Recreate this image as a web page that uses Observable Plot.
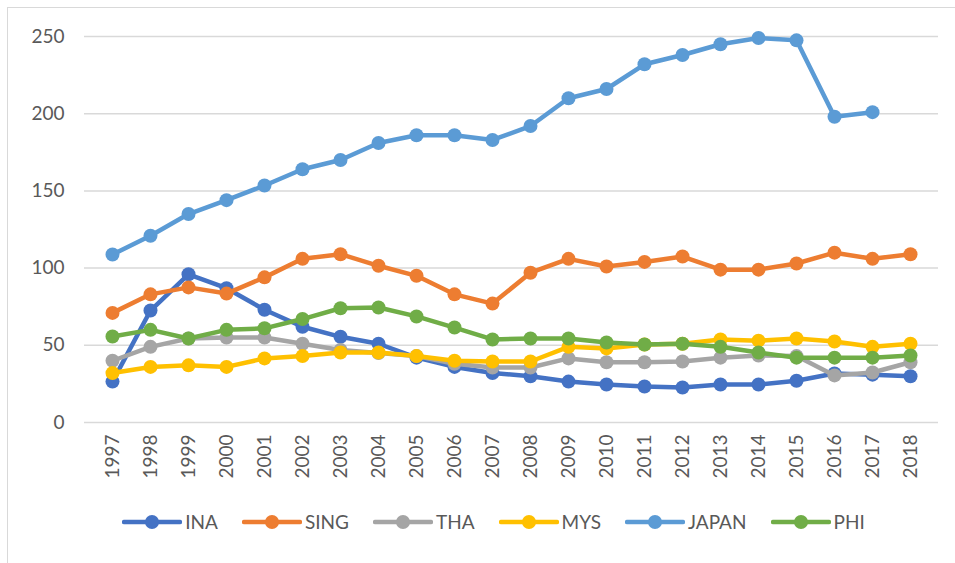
<!DOCTYPE html>
<html>
<head>
<meta charset="utf-8">
<script src="https://cdn.jsdelivr.net/npm/d3@7"></script>
<script src="https://cdn.jsdelivr.net/npm/@observablehq/plot@0.6"></script>
<style>
  html, body { margin: 0; padding: 0; background: #fff; }
  #wrap { position: relative; width: 955px; height: 563px; overflow: hidden; font-family: Lato, "Open Sans", sans-serif; }
  #frame { position: absolute; left: 7px; top: 7px; width: 960px; height: 570px; border-left: 1px solid #d9d9d9; border-top: 1px solid #d9d9d9; box-sizing: border-box; }
  #chart { position: absolute; left: 0; top: 0; }
  #legend { position: absolute; left: 16px; top: 510px; width: 955px; display: flex; justify-content: center; gap: 24px; font-size: 19px; color: #595959; }
  .item { display: flex; align-items: center; gap: 3px; }
</style>
</head>
<body>
<div id="wrap">
  <div id="frame"></div>
  <div id="chart"></div>
  <div id="legend"></div>
</div>
<script>
const years = [1997,1998,1999,2000,2001,2002,2003,2004,2005,2006,2007,2008,2009,2010,2011,2012,2013,2014,2015,2016,2017,2018];
const seriesNames = ["INA","SING","THA","MYS","JAPAN","PHI"];
const seriesColors = ["#4472C4","#ED7D31","#A5A5A5","#FFC000","#5B9BD5","#70AD47"];
const INA   = [26.5,72.5,96,87,73,62,55.5,51,42,36,32,30,26.5,24.6,23.3,22.7,24.6,24.6,27,31.7,31,30];
const SING  = [71,83,87.5,83.5,94,106,109,101.5,95,83,77,97,106,101,104,107.5,99,99,103,110,106,109];
const THA   = [40,49,54.4,55,55,51,47,45,43,38,35.6,35.6,41.5,39,39,39.5,42,43.4,43,30.5,32.4,39];
const MYS   = [32,36,37,36,41.5,43,45.3,45.3,43,40,39.5,39.5,49,48,50.5,51,53.8,53,54.4,52.5,49,51];
const JAPAN = [108.8,121,135,144,153.5,164,170,181,186,186,183,192,210,216,232,238,245,249,247.5,198,201,null];
const PHI   = [55.7,60,54.4,60,61,67,74,74.5,68.7,61.5,53.8,54.4,54.4,51.8,50.5,51,49,45.3,42,42,42,43.4];
const yTicks = [0,50,100,150,200,250];

const seriesValues = [INA, SING, THA, MYS, JAPAN, PHI];

const marks = [
  Plot.gridY(yTicks, {stroke: "#d9d9d9", strokeWidth: 1.5, strokeOpacity: 1})
];
seriesNames.forEach((name, i) => {
  const data = years.map((yr, j) => ({year: yr, value: seriesValues[i][j], series: name}));
  marks.push(Plot.line(data, {x: "year", y: "value", stroke: seriesColors[i], strokeWidth: 4.5, strokeLinejoin: "round", curve: "linear"}));
  marks.push(Plot.dot(data.filter(d => d.value != null), {x: "year", y: "value", fill: seriesColors[i], r: 7, stroke: "none"}));
});
marks.push(Plot.axisY(yTicks, {tickSize: 0, tickPadding: 20, fontSize: 19, color: "#595959", label: null, tickFormat: d => String(d)}));
marks.push(Plot.axisX(years, {tickSize: 0, tickPadding: 12, tickRotate: -90, fontSize: 19, color: "#595959", label: null, tickFormat: d => String(d)}));

const chart = Plot.plot({
  width: 955,
  height: 563,
  marginLeft: 84,
  marginRight: 17,
  marginTop: 36,
  marginBottom: 141,
  style: {fontFamily: "Lato, 'Open Sans', sans-serif", background: "transparent"},
  x: {type: "point", domain: years, padding: 0.5, label: null},
  y: {domain: [0, 250], label: null},
  marks
});
document.getElementById("chart").appendChild(chart);

const legend = document.getElementById("legend");
seriesNames.forEach((name, i) => {
  const item = document.createElement("div");
  item.className = "item";
  item.innerHTML = `<svg width="60" height="20"><line x1="2" x2="58" y1="10" y2="10" stroke="${seriesColors[i]}" stroke-width="4.5" stroke-linecap="round"/><circle cx="30" cy="10" r="7" fill="${seriesColors[i]}"/></svg><span>${name}</span>`;
  legend.appendChild(item);
});
</script>
</body>
</html>
